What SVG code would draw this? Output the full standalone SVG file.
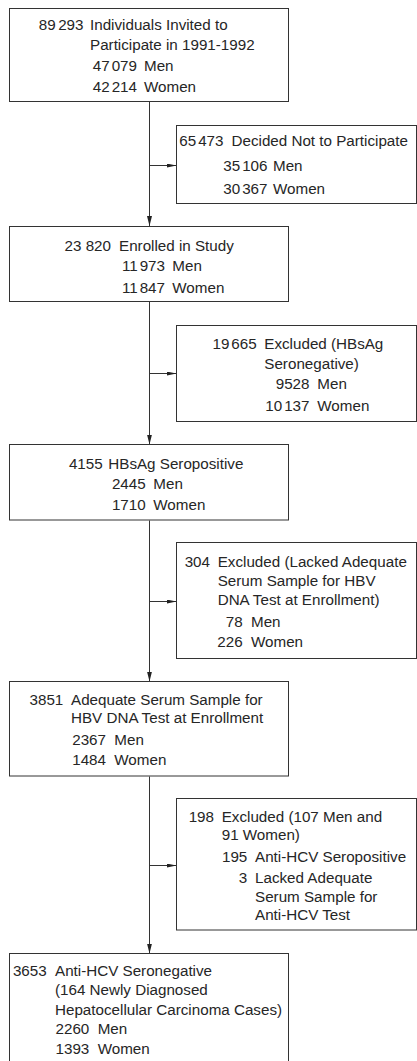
<svg xmlns="http://www.w3.org/2000/svg" width="417" height="1061" viewBox="0 0 417 1061">
<style>
.box{fill:#fff;stroke:#333;stroke-width:1}
.t{font-family:"Liberation Sans",Arial,sans-serif;font-size:15.2px;fill:#262626}
.e{text-anchor:end}
.ln{stroke:#333;stroke-width:1;fill:none}
</style>
<defs>
<marker id="ah" markerUnits="userSpaceOnUse" markerWidth="10" markerHeight="6" refX="10" refY="2.5" orient="auto"><path d="M0,0 L10,2.5 L0,5 z" fill="#222"/></marker>
<marker id="ahs" markerUnits="userSpaceOnUse" markerWidth="10" markerHeight="5" refX="10" refY="2" orient="auto"><path d="M0,0 L10,2 L0,4 z" fill="#222"/></marker>
</defs>
<rect width="417" height="1061" fill="#fff"/>
<g id="connectors">
<line class="ln" x1="149.5" y1="101.5" x2="149.5" y2="226" marker-end="url(#ah)"/>
<line class="ln" x1="149.5" y1="302" x2="149.5" y2="444.5" marker-end="url(#ah)"/>
<line class="ln" x1="149.5" y1="520.5" x2="149.5" y2="681.5" marker-end="url(#ah)"/>
<line class="ln" x1="149.5" y1="776.5" x2="149.5" y2="953.5" marker-end="url(#ah)"/>
<line class="ln" x1="149.5" y1="165.5" x2="176.5" y2="165.5" marker-end="url(#ahs)"/>
<line class="ln" x1="149.5" y1="373.5" x2="176.5" y2="373.5" marker-end="url(#ahs)"/>
<line class="ln" x1="149.5" y1="601.5" x2="176.5" y2="601.5" marker-end="url(#ahs)"/>
<line class="ln" x1="149.5" y1="865.5" x2="176.5" y2="865.5" marker-end="url(#ahs)"/>
</g>
<g id="n1">
<rect class="box" x="9.5" y="8.5" width="279" height="93"/>
<text class="t e" x="83.5" y="30.4">89<tspan dx="2.5">293</tspan></text>
<text class="t" x="90" y="30.4">Individuals Invited to</text>
<text class="t" x="90" y="50.4">Participate in 1991-1992</text>
<text class="t e" x="137" y="71">47<tspan dx="2">079</tspan></text><text class="t" x="144" y="71">Men</text>
<text class="t e" x="137" y="92">42<tspan dx="2">214</tspan></text><text class="t" x="144" y="92">Women</text>
</g>
<g id="n2">
<rect class="box" x="176.5" y="125.5" width="240" height="78"/>
<text class="t e" x="223.5" y="146">65<tspan dx="2">473</tspan></text>
<text class="t" x="231.5" y="146">Decided Not to Participate</text>
<text class="t e" x="267.5" y="171.4">35<tspan dx="2">106</tspan></text><text class="t" x="273" y="171.4">Men</text>
<text class="t e" x="267.5" y="194.4">30<tspan dx="2">367</tspan></text><text class="t" x="273" y="194.4">Women</text>
</g>
<g id="n3">
<rect class="box" x="9.5" y="226.5" width="279" height="75"/>
<text class="t e" x="111" y="250.5">23 820</text>
<text class="t" x="119" y="250.5">Enrolled in Study</text>
<text class="t e" x="165" y="270.5">11<tspan dx="2">973</tspan></text><text class="t" x="172.3" y="270.5">Men</text>
<text class="t e" x="165" y="292.7">11<tspan dx="2">847</tspan></text><text class="t" x="172.3" y="292.7">Women</text>
</g>
<g id="n4">
<rect class="box" x="176.5" y="325.5" width="240" height="96"/>
<text class="t e" x="256.7" y="348.7">19<tspan dx="2">665</tspan></text>
<text class="t" x="264.3" y="348.7">Excluded (HBsAg</text>
<text class="t" x="264.3" y="368.7">Seronegative)</text>
<text class="t e" x="309.5" y="389.4">9528</text><text class="t" x="317.3" y="389.4">Men</text>
<text class="t e" x="309.5" y="411.4">10<tspan dx="2">137</tspan></text><text class="t" x="317.3" y="411.4">Women</text>
</g>
<g id="n5">
<rect class="box" x="9.5" y="444.5" width="279" height="75.5"/>
<text class="t e" x="102.7" y="468.7">4155</text>
<text class="t" x="108.3" y="468.7">HBsAg Seropositive</text>
<text class="t e" x="145.7" y="488.7">2445</text><text class="t" x="153.3" y="488.7">Men</text>
<text class="t e" x="145.7" y="510.4">1710</text><text class="t" x="153.3" y="510.4">Women</text>
</g>
<g id="n6">
<rect class="box" x="176.5" y="542.5" width="240" height="116"/>
<text class="t e" x="210" y="567">304</text>
<text class="t" x="217.7" y="567">Excluded (Lacked Adequate</text>
<text class="t" x="217.7" y="586">Serum Sample for HBV</text>
<text class="t" x="217.7" y="605.4">DNA Test at Enrollment)</text>
<text class="t e" x="242.7" y="627">78</text><text class="t" x="251" y="627">Men</text>
<text class="t e" x="242.7" y="647">226</text><text class="t" x="251" y="647">Women</text>
</g>
<g id="n7">
<rect class="box" x="9.5" y="681.5" width="279" height="94.5"/>
<text class="t e" x="63.3" y="704.7">3851</text>
<text class="t" x="71" y="704.7">Adequate Serum Sample for</text>
<text class="t" x="71" y="722.7">HBV DNA Test at Enrollment</text>
<text class="t e" x="106" y="744.7">2367</text><text class="t" x="114.3" y="744.7">Men</text>
<text class="t e" x="106" y="765.4">1484</text><text class="t" x="114.3" y="765.4">Women</text>
</g>
<g id="n8">
<rect class="box" x="176.5" y="798.5" width="240" height="131.5"/>
<text class="t e" x="214" y="822">198</text>
<text class="t" x="221.7" y="822">Excluded (107 Men and</text>
<text class="t" x="221.7" y="840">91 Women)</text>
<text class="t e" x="247.3" y="862.4">195</text><text class="t" x="255" y="862.4">Anti-HCV Seropositive</text>
<text class="t e" x="247.3" y="883.3">3</text><text class="t" x="255" y="883.3">Lacked Adequate</text>
<text class="t" x="255" y="902">Serum Sample for</text>
<text class="t" x="255" y="920.4">Anti-HCV Test</text>
</g>
<g id="n9">
<rect class="box" x="9.5" y="953.5" width="279" height="120"/>
<text class="t e" x="46.7" y="976.4">3653</text>
<text class="t" x="55" y="976.4">Anti-HCV Seronegative</text>
<text class="t" x="55" y="995.4">(164 Newly Diagnosed</text>
<text class="t" x="55" y="1014.7">Hepatocellular Carcinoma Cases)</text>
<text class="t e" x="89.3" y="1033.7">2260</text><text class="t" x="97.7" y="1033.7">Men</text>
<text class="t e" x="89.3" y="1053.7">1393</text><text class="t" x="97.7" y="1053.7">Women</text>
</g>
</svg>
